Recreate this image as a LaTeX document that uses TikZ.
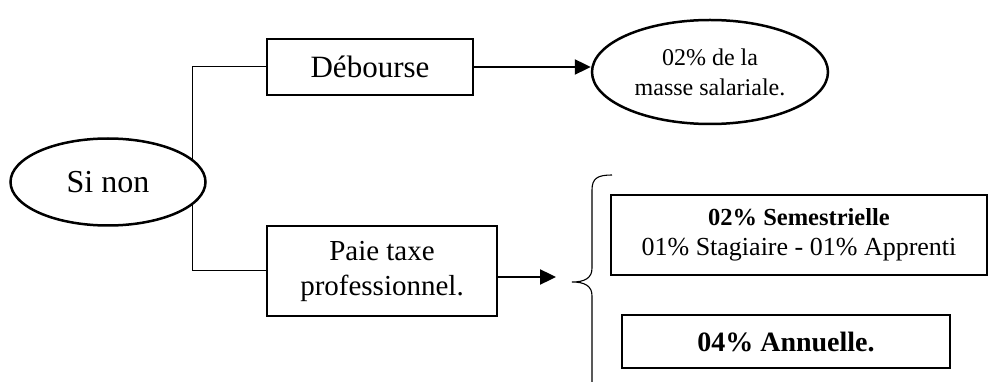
\documentclass[tikz,border=0pt]{standalone}
\usepackage{fontspec}
\setmainfont{Liberation Serif}
\usetikzlibrary{shapes.geometric,arrows.meta}
\begin{document}
\begin{tikzpicture}[x=1pt,y=-1pt,
  box/.style={draw,line width=2.5pt,rectangle,inner sep=0pt,align=center},
  oval/.style={draw,line width=2.5pt,ellipse,inner sep=0pt,align=center},
  link/.style={line width=1pt},
  arr/.style={line width=2.4pt,-{Triangle[length=16pt,width=15pt]}},
  brace/.style={line width=1.1pt}]
\useasboundingbox (0,0) rectangle (989,382);

% main nodes
\node[oval,minimum width=195pt,minimum height=87pt,font=\fontsize{32}{38}\selectfont] (sinon) at (108,182) {Si non};
\node[box,minimum width=206pt,minimum height=56pt,font=\fontsize{31}{36}\selectfont] (deb) at (370,67) {Débourse};
\node[oval,minimum width=236pt,minimum height=104pt,font=\fontsize{24}{30}\selectfont] (sal) at (710,72) {02\% de la\\masse salariale.};
\node[box,minimum width=230pt,minimum height=90pt,font=\fontsize{29}{35}\selectfont] (paie) at (382,271) {Paie taxe\\professionnel.};
\node[box,minimum width=376pt,minimum height=80pt,font=\fontsize{26}{30}\selectfont] (sem) at (799,235)
  {{\fontsize{24.5}{30}\selectfont\bfseries 02\% Semestrielle}\\01\% Stagiaire - 01\% Apprenti};
\node[box,minimum width=328pt,minimum height=53pt,font=\fontsize{28}{32}\selectfont\bfseries] (ann) at (786,341.5) {04\% Annuelle.};

% branches from the decision
\draw[link] (sinon.15) |- (deb.west);
\draw[link] (sinon.-15) |- (paie.west);

% arrows
\draw[arr] (deb.east) -- (sal.west |- deb.east);
\coordinate (tip) at (556,277);
\draw[arr] (paie.east |- tip) -- (tip);

% curly brace grouping the two rates
\draw[brace] (612,175) .. controls (598,175) and (592,178) .. (592,190) -- (592,268)
  .. controls (592,278) and (585,282) .. (572,282)
  .. controls (585,282) and (592,286) .. (592,296) -- (592,386);
\end{tikzpicture}
\end{document}
